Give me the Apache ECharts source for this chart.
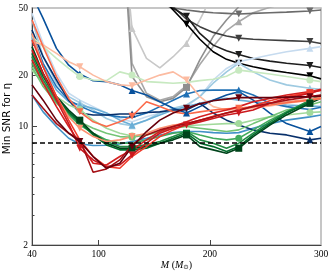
<!DOCTYPE html>
<html><head><meta charset="utf-8">
<script src="https://cdn.jsdelivr.net/npm/echarts@6/dist/echarts.min.js"></script>
<style>html,body{margin:0;padding:0;background:#fff}#c{width:333px;height:277px}</style>
</head><body><div id="c"></div>
<script>
// Total mass grid (M_sun)
const massGrid = [40,50,62,73,83,95,107,119,130,143,155,167,179,191,203,215,226,239,254,269,290,300];
const xTickLabels = [40,100,200,300];
const xTicks = [100,200];
const yTickLabels = [2,10,20,50];
const yMajorTicks = [10,20];
const yMinorTicks = [3,4,5,6,7,8,9,30,40];
const thresholdSNR = 8;

const _ = null;
// grays / blacks
const snrGrayTop   = [_,_,_,_,_,_,_,_,_,_,53.2,50.0,48.7,47.6,46.9,46.5,46.1,46.5,46.9,47.3,48.0,48.7];
const snrGrayLight = [_,_,_,_,_,_,_,217,37.9,25.2,22.2,25.8,30.9,42.5,61.0,_,_,_,_,_,_,_];
const snrGrayMid   = [_,_,_,_,_,_,_,342,23.6,15.7,14.3,15.0,17.4,23.2,29.6,36.8,41.5,46.9,50.5,53.2,55.6,56.9];
const snrGrayDark  = [_,_,_,_,_,_,_,272,19.7,15.0,14.0,14.65,17.0,24.7,33.9,42.5,50.9,64.0,_,_,_,_];
const snrBlack2    = [_,_,_,_,_,_,_,_,_,_,58.3,50.9,42.9,38.8,35.9,34.2,33.2,32.7,32.4,32.1,31.7,30.9];
const snrBlack3    = [_,_,_,_,_,_,_,_,_,_,55.6,49.8,44.7,35.4,30.2,28.0,26.6,25.2,24.3,23.6,22.9,22.3];
const snrBlack4    = [_,_,_,_,_,_,_,_,_,_,58.3,48.7,40.2,32.7,27.6,24.9,23.6,22.5,21.5,20.8,19.9,19.1];
// blues
const snrBlueL2  = [46.5,30.9,20.6,15.7,14.3,13.1,12.0,11.15,10.65,11.4,12.0,12.5,13.1,15.0,18.8,22.0,24.1,25.2,26.4,27.6,28.9,29.6];
const snrBlueL1  = [42.5,25.8,18.0,15.0,13.8,12.5,11.15,10.4,10.1,10.9,12.0,12.8,13.4,15.0,18.0,21.0,23.6,21.0,18.8,17.6,16.8,16.6];
const snrBlueM3  = [33.9,22.5,16.4,14.0,13.4,12.8,12.0,10.9,10.2,10.9,11.7,12.5,13.1,13.7,14.3,14.65,14.3,14.0,13.7,13.4,13.2,13.1];
const snrBlueM2  = [15.35,12.2,10.0,8.53,7.9,7.72,7.75,7.9,8.15,8.53,8.92,9.2,9.34,9.34,9.2,9.13,9.2,9.77,10.4,10.9,11.4,11.7];
const snrBlueM1  = [35.4,23.6,17.2,14.3,13.2,12.2,11.7,11.4,11.3,12.0,13.1,14.3,15.55,16.3,16.4,16.4,16.4,15.35,13.7,13.1,12.6,13.0];
const snrBlueD1  = [59.6,43.4,28.9,23.0,20.4,18.6,18.4,17.6,16.3,15.35,14.0,12.8,12.0,13.1,14.3,15.35,16.05,14.3,12.0,10.4,9.34,10.0];
const snrBlueNavy= [37.1,25.8,18.8,14.3,12.0,11.7,11.7,11.85,11.85,12.1,12.2,12.5,12.5,13.7,12.0,10.9,10.2,9.55,9.13,8.92,8.34,8.53];
// greens
const snrGreenL1 = [33.9,29.6,25.2,22.0,19.7,18.8,18.65,21.0,20.1,18.4,18.2,18.0,18.2,18.65,19.0,19.8,21.5,21.0,20.4,19.7,18.8,18.4];
const snrGreenL2 = [21.5,18.0,15.0,13.4,12.6,10.9,9.77,9.13,8.8,8.92,9.34,9.77,10.1,10.2,10.3,10.4,10.4,10.9,11.4,11.7,12.1,12.2];
const snrGreenM  = [22.5,17.2,13.7,12.0,10.65,9.77,9.13,8.72,8.64,8.92,9.34,9.77,10.0,9.77,9.55,9.34,9.55,10.4,11.4,12.5,13.4,14.0];
const snrGreen4  = [23.6,18.0,14.0,11.7,10.2,9.13,8.34,7.97,7.97,8.34,8.72,9.13,9.34,8.92,8.53,8.34,8.53,9.55,10.9,12.2,14.0,15.0];
const snrGreen3  = [25.8,18.8,14.3,12.0,10.4,9.13,8.15,7.61,7.61,7.79,8.15,8.72,9.34,8.34,7.97,7.44,7.97,9.13,10.65,12.2,14.3,15.35];
const snrGreen2  = [27.0,19.7,14.65,12.2,10.65,8.92,7.79,7.28,7.28,7.44,7.97,8.53,9.13,7.97,7.61,7.11,7.61,8.92,10.4,12.0,14.0,15.0];
const snrGreen1  = [29.6,20.6,15.0,12.5,10.9,9.13,7.97,7.44,7.44,7.61,7.97,8.34,8.92,7.61,7.28,6.95,7.44,8.72,10.2,11.7,13.7,14.65];
// reds
const snrRedS3 = [31.7,30.3,27.0,24.1,22.5,20.1,18.4,17.6,17.4,18.8,20.1,21.0,18.8,15.0,13.1,12.5,12.5,12.8,13.2,13.7,14.3,14.65];
const snrRedS2 = [35.4,22.5,15.0,11.4,9.77,8.72,8.15,8.34,8.72,9.13,9.77,10.2,10.4,10.9,11.4,12.0,12.5,13.1,13.7,14.0,14.45,14.85];
const snrRedS1 = [42.5,29.6,19.7,14.65,12.2,10.65,10.0,10.65,11.5,14.0,13.1,12.2,11.85,12.2,12.5,12.7,12.8,13.1,13.4,13.8,14.3,14.65];
const snrRed3  = [24.7,18.0,13.1,10.0,7.97,6.07,5.93,6.65,7.28,8.34,9.34,10.0,10.65,11.4,12.0,12.5,13.1,14.0,14.65,15.35,16.05,16.6];
const snrRed2  = [32.4,22.5,15.0,10.9,8.34,6.65,5.80,5.67,6.65,7.61,8.72,9.55,10.3,10.9,11.5,12.0,12.4,13.2,14.2,15.0,15.85,16.3];
const snrRed1  = [28.2,20.6,14.3,10.4,7.44,6.35,5.80,5.93,6.8,7.97,9.13,9.77,10.2,10.65,11.15,11.7,12.0,12.5,13.7,14.65,15.7,16.4];
const snrRedD2 = [15.35,12.8,10.4,9.13,8.4,5.37,5.62,6.35,7.79,8.92,9.55,10.0,10.4,10.9,11.4,12.0,12.5,13.1,13.7,14.3,15.0,15.35];
const snrRedD1 = [17.6,14.3,10.9,9.13,8.15,6.65,5.67,6.07,7.61,9.34,10.9,12.0,12.8,13.6,14.2,14.5,14.8,14.8,14.8,14.9,15.0,15.1];

const defs = [
  {c:'#c8c8c8', s:'up',   m:[8,12],         v:snrGrayLight},
  {c:'#a8a8a8', s:'up',   m:[16],           v:snrGrayMid},
  {c:'#8f8f8f', s:'sq',   m:[12],           v:snrGrayDark},
  {c:'#6b6b6b', s:'down', m:[16,20],        v:snrGrayTop},
  {c:'#3f3f3f', s:'down', m:[16,20],        v:snrBlack2},
  {c:'#1e1e1e', s:'down', m:[12,16,20],     v:snrBlack3},
  {c:'#000000', s:'down', m:[12,16,20],     v:snrBlack4},
  {c:'#c6dbef', s:'up',   m:[16,20],        v:snrBlueL2},
  {c:'#9ecae1', s:'up',   m:[4,8,20],       v:snrBlueL1},
  {c:'#6baed6', s:'up',   m:[4,8],          v:snrBlueM3},
  {c:'#4292c6', s:'up',   m:[],             v:snrBlueM2},
  {c:'#2171b5', s:'up',   m:[12,16],        v:snrBlueM1},
  {c:'#08519c', s:'up',   m:[4,8,12,20],    v:snrBlueD1},
  {c:'#08306b', s:'up',   m:[8,20],         v:snrBlueNavy},
  {c:'#c7e9c0', s:'dot',  m:[4,8,16,20],    v:snrGreenL1},
  {c:'#a1d99b', s:'dot',  m:[4,8,16,20],    v:snrGreenL2},
  {c:'#74c476', s:'dot',  m:[8],            v:snrGreenM},
  {c:'#41ab5d', s:'dot',  m:[16,20],        v:snrGreen4},
  {c:'#238b45', s:'sq',   m:[],             v:snrGreen3},
  {c:'#006d2c', s:'sq',   m:[12],           v:snrGreen2},
  {c:'#00441b', s:'sq',   m:[4,8,12,16,20], v:snrGreen1},
  {c:'#fcbba1', s:'down', m:[4,8,12],       v:snrRedS3},
  {c:'#fc9272', s:'down', m:[4,8],          v:snrRedS2},
  {c:'#fb6a4a', s:'down', m:[4,8,16],       v:snrRedS1},
  {c:'#d42020', s:'down', m:[],             v:snrRed3},
  {c:'#ef3b2c', s:'sq',   m:[20],           v:snrRed2},
  {c:'#cb181d', s:'down', m:[4,8,12,16],    v:snrRed1},
  {c:'#a50f15', s:'down', m:[],             v:snrRedD2},
  {c:'#67000d', s:'down', m:[4,8,12,16,20], v:snrRedD1}
];
const shapes = {down:'path://M0,0L10,0L5,9Z', up:'triangle', dot:'circle', sq:'rect'};

const series = defs.map(d => ({
  type:'line', animation:false, silent:true, clip:true,
  lineStyle:{color:d.c, width:1.6}, itemStyle:{color:d.c},
  symbolSize:7, showSymbol:true,
  data: d.v.map((y,i) => y == null ? null :
    {value:[massGrid[i], y], symbol: d.m.includes(i) ? shapes[d.s] : 'none'}).filter(Boolean)
}));
series.push({
  type:'line', animation:false, silent:true, symbol:'none', z:10,
  lineStyle:{color:'#000', width:1.4, type:[5,3]},
  data:[[massGrid[0], thresholdSNR],[massGrid[massGrid.length-1], thresholdSNR]]
});

const chart = echarts.init(document.getElementById('c'), null, {renderer:'canvas'});
chart.setOption({
  animation:false,
  grid:{left:32, right:12, top:8, bottom:32, outerBoundsMode:'none', containLabel:false,
        show:true, borderColor:'#b4b4b4', borderWidth:1.5, backgroundColor:'transparent'},
  xAxis:{
    type:'value', min:40, max:300,
    axisLine:{show:true, lineStyle:{color:'#444', width:1}},
    axisTick:{show:true, inside:true, length:5, customValues:xTicks, lineStyle:{color:'#444'}},
    axisLabel:{customValues:xTickLabels, fontFamily:'Liberation Serif', fontSize:9.5, color:'#000', margin:4},
    splitLine:{show:false},
    name:'{i|M} ({i|M}{s|⊙})', nameLocation:'middle', nameGap:15, nameMoveOverlap:false,
    nameTextStyle:{fontFamily:'Liberation Serif', fontSize:10, color:'#000',
      rich:{i:{fontFamily:'Liberation Serif', fontStyle:'italic', fontSize:10, color:'#000'},
            s:{fontFamily:'DejaVu Sans', fontSize:6.5, color:'#000', verticalAlign:'bottom', padding:[4,0,0,0]}}}
  },
  yAxis:[{
    type:'log', logBase:10, min:2, max:50,
    axisLine:{show:true, lineStyle:{color:'#444', width:1}},
    axisTick:{show:true, inside:true, length:5, customValues:yMajorTicks, lineStyle:{color:'#444'}},
    axisLabel:{customValues:yTickLabels, fontFamily:'Liberation Serif', fontSize:9.5, color:'#000', margin:4},
    splitLine:{show:false}, minorTick:{show:false},
    name:'Min SNR for η', nameLocation:'middle', nameGap:19, nameMoveOverlap:false,
    nameTextStyle:{fontFamily:'DejaVu Sans', fontSize:10.5, color:'#000', padding:[0,0,0,16]}
  },{
    type:'log', logBase:10, min:2, max:50, position:'left',
    axisLine:{show:false},
    axisTick:{show:true, inside:true, length:2.5, customValues:yMinorTicks, lineStyle:{color:'#444'}},
    axisLabel:{show:false}, splitLine:{show:false}
  }],
  series: series
});
</script></body></html>
